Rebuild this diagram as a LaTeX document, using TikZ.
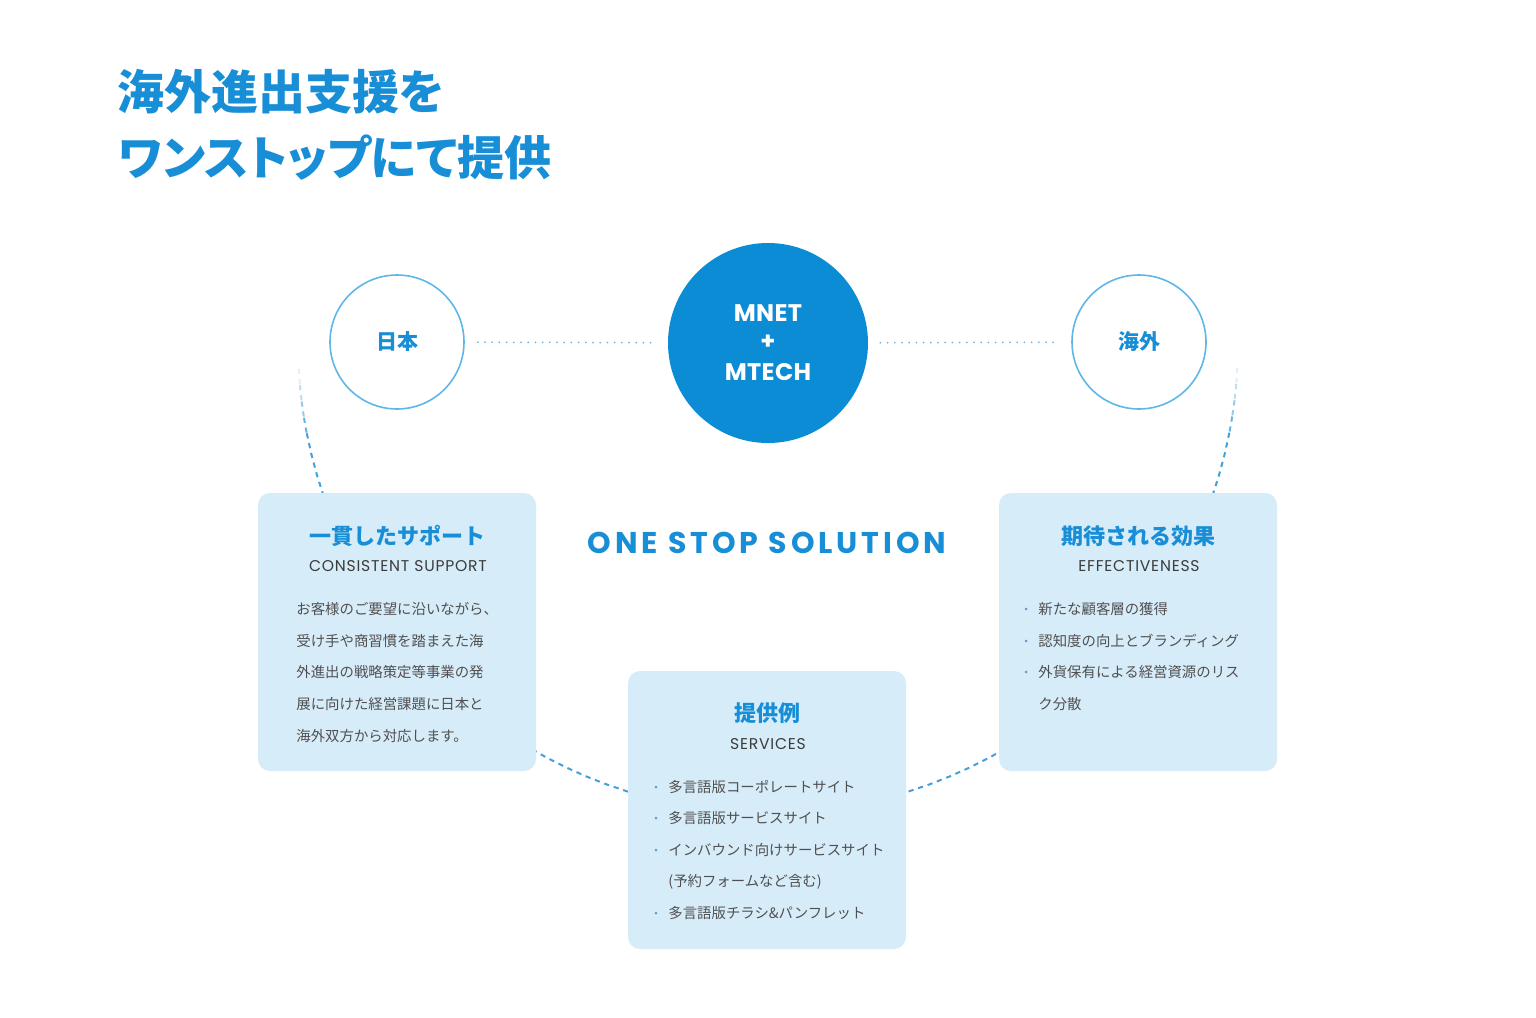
\documentclass[tikz,border=0pt]{standalone}
\usepackage{fontspec}
\setmainfont{Noto Sans CJK JP}
\newfontfamily\jpt[RawFeature=+palt]{Noto Sans CJK JP}
\newfontfamily\lat[LetterSpace=5]{Poppins}
\newfontfamily\lath[LetterSpace=1.5]{Poppins}
\newfontfamily\latsp[LetterSpace=13]{Poppins}
\definecolor{ttlblue}{RGB}{24,142,214}
\definecolor{hubblue}{RGB}{12,140,213}
\definecolor{ringblue}{RGB}{95,183,232}
\definecolor{dotblue}{RGB}{110,185,225}
\definecolor{arcblue}{RGB}{70,160,215}
\definecolor{boxfill}{RGB}{215,236,249}
\definecolor{txtgray}{RGB}{80,80,80}
\definecolor{engray}{RGB}{60,60,60}
\definecolor{bulc}{RGB}{100,155,200}
\begin{document}
\begin{tikzpicture}[x=0.5pt,y=-0.5pt,
  ttl/.style={font=\jpt\bfseries\fontsize{23.5}{23.5}\selectfont, text=ttlblue, anchor=west, inner sep=0pt},
  ring/.style={circle, draw=ringblue, line width=0.8pt, minimum size=67pt, inner sep=0pt, fill=white},
  ringtxt/.style={font=\bfseries\fontsize{10.5}{10.5}\selectfont, text=ttlblue},
  hubs/.style={circle, fill=hubblue, minimum size=100pt, inner sep=0pt},
  hubtxt/.style={font=\lath\bfseries\fontsize{12}{12}\selectfont, text=white, inner sep=0pt},
  dotc/.style={draw=dotblue, line width=1pt, line cap=round, dash pattern=on 0pt off 3.6pt},
  arcd/.style={draw=arcblue, line width=1pt, dash pattern=on 2.6pt off 2.4pt},
  boxs/.style={rectangle, rounded corners=6pt, fill=boxfill, minimum width=139pt, minimum height=139pt, inner sep=0pt},
  boxttl/.style={font=\bfseries\fontsize{11}{11}\selectfont, text=ttlblue, inner sep=0pt},
  eng/.style={font=\lat\fontsize{7.8}{8}\selectfont, text=engray, inner sep=0pt},
  body/.style={font=\fontsize{7.2}{7.2}\selectfont, text=txtgray, anchor=west, inner sep=0pt, text height=6.3pt, text depth=0.9pt},
  bul/.style={circle, fill=bulc, inner sep=0pt, minimum size=1.5pt}
]
\useasboundingbox (0,0) rectangle (1536,1017);
\fill[white] (0,0) rectangle (1536,1017);

% title
\node[ttl] (t1) at (117,92) {海外進出支援を};
\node[ttl] (t2) at (118,158) {ワンストップにて提供};

% big dashed arc
\foreach \a/\b/\o in {3/5/0.15,5/7/0.35,7/9/0.55,9/11/0.8,11/169/1,169/171/0.8,171/173/0.55,173/175/0.35,175/177/0.15}
  \draw[arcd, draw opacity=\o] plot[domain=\a:\b, samples=60] ({768+470*cos(\x)},{343+470*sin(\x)});

% circles
\node[ring] (jp) at (397,342) {};
\node[ringtxt] (jpt) at (397,342) {日本};
\node[ring] (ov) at (1139,342) {};
\node[ringtxt] (ovt) at (1139,342) {海外};
\node[hubs] (hub) at (768,343) {};
\node[hubtxt] (m1) at (768,313) {MNET};
\node[hubtxt] (m2) at (768,342) {+};
\node[hubtxt] (m3) at (768,372) {MTECH};

\draw[dotc, shorten <=6.5pt, shorten >=5.5pt] (jp) -- (hub);
\draw[dotc, shorten <=6pt, shorten >=6pt] (hub) -- (ov);

% center label
\node[font=\latsp\bfseries\fontsize{15}{15}\selectfont, text=ttlblue, inner sep=0pt] (oss) at (767,543) {ONE STOP SOLUTION};

% left box
\node[boxs] (bl) at (397,632) {};
\node[boxttl] (blt) at (397,536) {一貫したサポート};
\node[eng] (ble) at (398,566) {CONSISTENT SUPPORT};
\node[body] (bl1) at (296,609) {お客様のご要望に沿いながら、};
\node[body] (bl2) at (296,641) {受け手や商習慣を踏まえた海};
\node[body] (bl3) at (296,672) {外進出の戦略策定等事業の発};
\node[body] (bl4) at (296,704) {展に向けた経営課題に日本と};
\node[body] (bl5) at (296,736) {海外双方から対応します。};

% right box
\node[boxs] (br) at (1138,632) {};
\node[boxttl] (brt) at (1138,536) {期待される効果};
\node[eng] (bre) at (1139,566) {EFFECTIVENESS};
\node[bul] (rb1) at (1026,609) {};
\node[bul] (rb2) at (1026,641) {};
\node[bul] (rb3) at (1026,672) {};
\node[body] (br1) at (1038,609) {新たな顧客層の獲得};
\node[body] (br2) at (1038,641) {認知度の向上とブランディング};
\node[body] (br3) at (1038,672) {外貨保有による経営資源のリス};
\node[body] (br4) at (1038,704) {ク分散};

% center box
\node[boxs] (bc) at (767,810) {};
\node[boxttl] (bct) at (767,713) {提供例};
\node[eng] (bce) at (768,744) {SERVICES};
\node[bul] (cb1) at (656,787) {};
\node[bul] (cb2) at (656,818) {};
\node[bul] (cb3) at (656,850) {};
\node[bul] (cb5) at (656,913) {};
\node[body] (bc1) at (668,787) {多言語版コーポレートサイト};
\node[body] (bc2) at (668,818) {多言語版サービスサイト};
\node[body] (bc3) at (668,850) {インバウンド向けサービスサイト};
\node[body] (bc4) at (668,881) {(予約フォームなど含む)};
\node[body] (bc5) at (668,913) {多言語版チラシ\&パンフレット};
\end{tikzpicture}
\end{document}
